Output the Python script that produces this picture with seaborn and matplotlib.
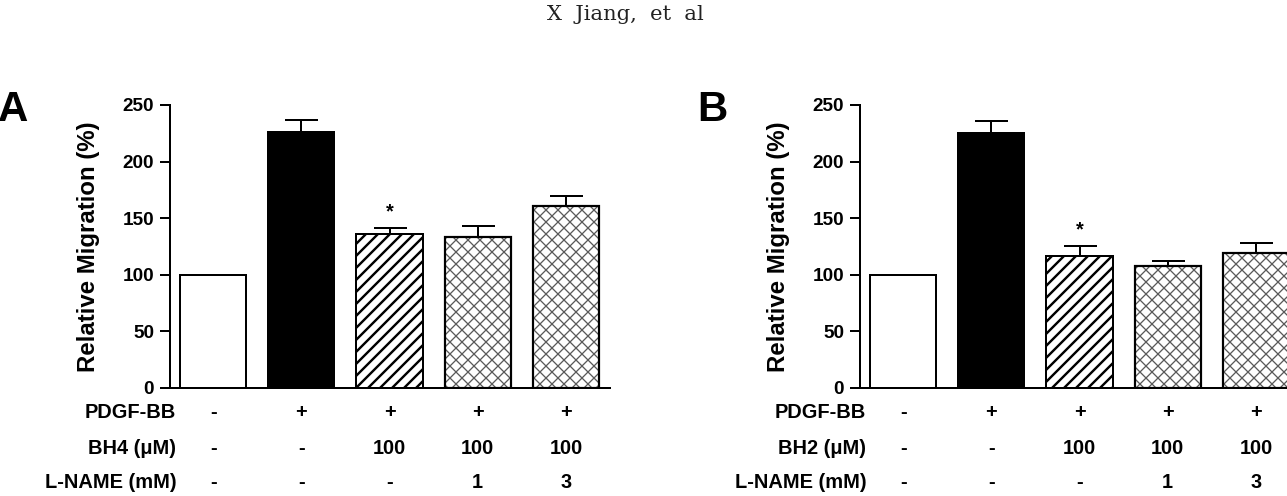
import numpy as np
import pandas as pd
import matplotlib
matplotlib.use("Agg")
import matplotlib.pyplot as plt
import matplotlib.transforms as mtransforms
from matplotlib.patches import Rectangle
import seaborn as sns

# bar data (relative migration, %)
groups = ["Control", "PDGF-BB", "PDGF+BH", "PDGF+BH+LN1", "PDGF+BH+LN3"]
mean_a = [100, 226, 136, 133, 161]
sem_a = [0, 11, 5, 10, 9]
mean_b = [100, 225, 117, 108, 119]
sem_b = [0, 11, 8, 4, 9]

# treatment table under the bars
pdgf_row = ["-", "+", "+", "+", "+"]
bh_row = ["-", "-", "100", "100", "100"]
lname_row = ["-", "-", "-", "1", "3"]
row_labels_a = ["PDGF-BB", "BH4 (\u03bcM)", "L-NAME (mM)"]
row_labels_b = ["PDGF-BB", "BH2 (\u03bcM)", "L-NAME (mM)"]
yticks = [0, 50, 100, 150, 200, 250]

sns.set_theme(style="ticks")
plt.rcParams["font.family"] = ["Liberation Sans", "DejaVu Sans"]
plt.rcParams["hatch.linewidth"] = 2.4
for k in ["text.color", "axes.labelcolor", "xtick.color", "ytick.color",
          "axes.edgecolor"]:
    plt.rcParams[k] = "black"

fig = plt.figure(figsize=(1287 / 72, 496 / 72), dpi=72)
fig.patch.set_facecolor("white")

styles = ["white", "black", "diag", "cross", "cross"]


def panel(rect, means, sems, letter, row_labels, letter_x):
    ax = fig.add_axes(rect)
    df = pd.DataFrame({"grp": groups, "val": means})
    sns.barplot(data=df, x="grp", y="val", order=groups, color="white",
                width=0.75, errorbar=None, edgecolor="black", linewidth=2,
                saturation=1, ax=ax)
    for p, st in zip(ax.patches, styles):
        p.set_zorder(2)
        if st == "black":
            p.set_facecolor("black")
        elif st == "diag":
            p.set_hatch("//")
            if hasattr(p, "set_hatch_linewidth"):
                p.set_hatch_linewidth(2.4)
        elif st == "cross":
            p.set_hatch("xx")
            p.set_edgecolor("#5a5a5a")
            p.set_linewidth(0)
            if hasattr(p, "set_hatch_linewidth"):
                p.set_hatch_linewidth(1.3)
            ax.add_patch(Rectangle((p.get_x(), p.get_y()), p.get_width(), p.get_height(),
                                   fill=False, edgecolor="black", linewidth=2.2, zorder=3))
    xs = np.arange(len(groups))
    ax.errorbar(xs[1:], means[1:], yerr=[np.zeros(len(xs) - 1), sems[1:]],
                fmt="none", ecolor="black", elinewidth=2, capsize=16.5,
                capthick=2, zorder=1)
    ax.text(xs[2], means[2] + sems[2] + 6, "*", ha="center", va="bottom",
            fontsize=20, fontweight="bold")

    ax.set_xlim(-0.49, 4.5)
    ax.set_ylim(0, 250)
    ax.set_yticks(yticks)
    ax.set_xticks([])
    ax.set_xlabel("")
    ax.set_ylabel("Relative Migration (%)", fontsize=24, fontweight="bold",
                  labelpad=22)
    ax.tick_params(axis="y", length=10, width=2, pad=6, labelsize=19,
                   color="black")
    for lab in ax.get_yticklabels():
        lab.set_fontweight("bold")
    sns.despine(ax=ax)
    for s in ["left", "bottom"]:
        ax.spines[s].set_linewidth(2)
        ax.spines[s].set_color("black")
    ax.set_facecolor("white")
    ax.patch.set_alpha(0)

    tr = mtransforms.blended_transform_factory(ax.transData, fig.transFigure)
    rows = [pdgf_row, bh_row, lname_row]
    ys = [1 - 412 / 496, 1 - 448 / 496, 1 - 482 / 496]
    for lab, row, y in zip(row_labels, rows, ys):
        ax.text(-0.42, y, lab, transform=tr, ha="right", va="center",
                fontsize=20, fontweight="bold", clip_on=False)
        for x, v in zip(xs, row):
            ax.text(x, y, v, transform=tr, ha="center", va="center",
                    fontsize=20, fontweight="bold", clip_on=False)
    fig.text(letter_x, 1 - 110 / 496, letter, fontsize=42, fontweight="bold",
             ha="left", va="center")
    return ax


panel([170 / 1287, 108 / 496, 440 / 1287, 283 / 496], mean_a, sem_a, "A",
      row_labels_a, -2 / 1287)
panel([860 / 1287, 108 / 496, 440 / 1287, 283 / 496], mean_b, sem_b, "B",
      row_labels_b, 697 / 1287)

fig.text(625 / 1287, 1 - 14 / 496, "X  Jiang,  et  al", fontsize=21,
         family=["DejaVu Serif"], color="#222222", ha="center", va="center")

fig.savefig("out.png", dpi=72, facecolor="white")
